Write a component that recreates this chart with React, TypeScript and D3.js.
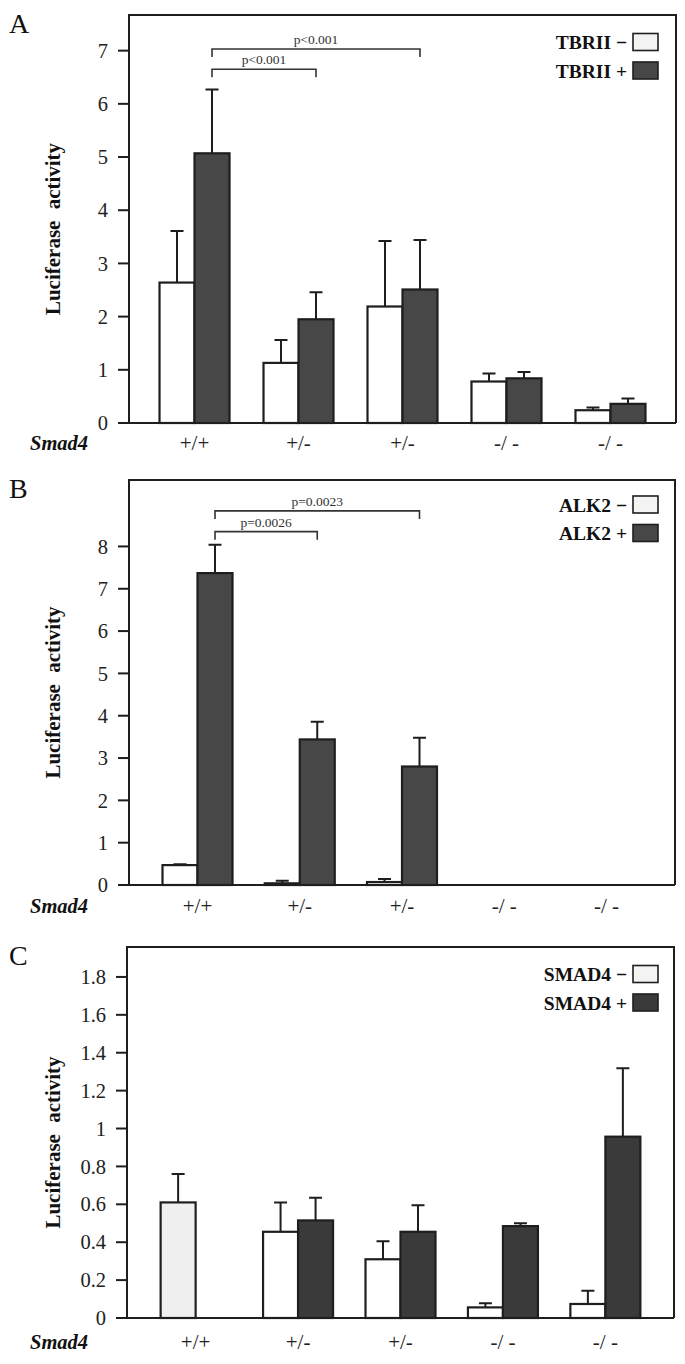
import React from "react";
import * as d3 from "d3";

// ---------- data ----------
const genotypes = ["+/+", "+/-", "+/-", "-/ -", "-/ -"];

const tbriiNeg = [2.64, 1.13, 2.19, 0.78, 0.24];
const tbriiNegSd = [0.97, 0.43, 1.23, 0.15, 0.05];
const tbriiPos = [5.07, 1.95, 2.51, 0.84, 0.36];
const tbriiPosSd = [1.2, 0.51, 0.93, 0.12, 0.1];
const tbriiTicks = [0, 1, 2, 3, 4, 5, 6, 7];

const alk2Neg: (number | null)[] = [0.47, 0.04, 0.07, null, null];
const alk2NegSd: (number | null)[] = [0.02, 0.06, 0.07, null, null];
const alk2Pos: (number | null)[] = [7.37, 3.44, 2.8, null, null];
const alk2PosSd: (number | null)[] = [0.67, 0.42, 0.68, null, null];
const alk2Ticks = [0, 1, 2, 3, 4, 5, 6, 7, 8];

const smad4Neg: (number | null)[] = [0.61, 0.455, 0.31, 0.056, 0.074];
const smad4NegSd: (number | null)[] = [0.15, 0.155, 0.095, 0.022, 0.07];
const smad4Pos: (number | null)[] = [null, 0.515, 0.455, 0.485, 0.957];
const smad4PosSd: (number | null)[] = [null, 0.12, 0.14, 0.015, 0.361];
const smad4Ticks = [0, 0.2, 0.4, 0.6, 0.8, 1, 1.2, 1.4, 1.6, 1.8];

const tbriiBrackets = [
  { from: 0, to: 2, y: 7.03, label: "p<0.001" },
  { from: 0, to: 1, y: 6.65, label: "p<0.001" },
];
const alk2Brackets = [
  { from: 0, to: 2, y: 8.84, label: "p=0.0023" },
  { from: 0, to: 1, y: 8.35, label: "p=0.0026" },
];

// ---------- styles ----------
const SERIF = "'Liberation Serif', 'Times New Roman', Times, serif";
const INK = "#1e1e1e";
const BAR_W = 35;

type Cfg = {
  letter: string;
  legendName: string;
  neg: (number | null)[];
  negSd: (number | null)[];
  pos: (number | null)[];
  posSd: (number | null)[];
  ticks: number[];
  brackets: { from: number; to: number; y: number; label: string }[];
  left: number;
  right: number;
  top: number;
  bottom: number;
  yMax: number;
  pad: number;
  labelBase: number;
  darkFill: string;
  firstNegFill: string;
  legendTop: number;
};

function Panel({ c }: { c: Cfg }) {
  const y = d3.scaleLinear().domain([0, c.yMax]).range([c.bottom, c.top]);
  const x = d3
    .scalePoint<number>()
    .domain(d3.range(genotypes.length))
    .range([c.left, c.right])
    .padding(c.pad);
  const fmt = (d: number) => String(+d.toFixed(1));

  const bars: JSX.Element[] = [];
  const errs: JSX.Element[] = [];
  genotypes.forEach((_, i) => {
    const cx = x(i) as number;
    const series = [
      { v: c.neg[i], sd: c.negSd[i], x0: cx - BAR_W, fill: i === 0 ? c.firstNegFill : "#ffffff" },
      { v: c.pos[i], sd: c.posSd[i], x0: cx, fill: c.darkFill },
    ];
    series.forEach((s, k) => {
      if (s.v == null) return;
      bars.push(
        <rect
          key={`b${i}-${k}`}
          x={s.x0}
          y={y(s.v)}
          width={BAR_W}
          height={c.bottom - y(s.v)}
          fill={s.fill}
          stroke={INK}
          strokeWidth={2.2}
        />
      );
      if (s.sd != null && s.sd > 0) {
        const mx = s.x0 + BAR_W / 2;
        const yt = y(s.v + s.sd);
        errs.push(
          <path
            key={`e${i}-${k}`}
            d={`M${mx},${y(s.v)}V${yt}M${mx - 6.5},${yt}H${mx + 6.5}`}
            stroke={INK}
            strokeWidth={2}
            fill="none"
          />
        );
      }
    });
  });

  const legendRows = [
    { label: `${c.legendName} \u2212`, fill: "#f3f3f3" },
    { label: `${c.legendName} +`, fill: c.darkFill },
  ];

  return (
    <g>
      <text x={9} y={c.top + 18} fontFamily={SERIF} fontSize={28} fill="#111">
        {c.letter}
      </text>
      {/* frame */}
      <path
        d={`M${c.left},${c.bottom}V${c.top}H${c.right}V${c.bottom}`}
        fill="none"
        stroke={INK}
        strokeWidth={2}
      />
      {bars}
      {errs}
      {/* x axis */}
      <line x1={c.left - 11} x2={c.right} y1={c.bottom} y2={c.bottom} stroke={INK} strokeWidth={2} />
      {/* y ticks */}
      {c.ticks.map((t) => (
        <g key={`t${t}`}>
          <line x1={c.left - 11} x2={c.left} y1={y(t)} y2={y(t)} stroke={INK} strokeWidth={2} />
          <text
            x={c.left - 21}
            y={y(t)}
            dy="0.35em"
            textAnchor="end"
            fontFamily={SERIF}
            fontSize={20.5}
            fill="#222"
          >
            {fmt(t)}
          </text>
        </g>
      ))}
      {/* y title */}
      <text
        transform={`translate(53,${(c.top + c.bottom) / 2 + 10}) rotate(-90)`}
        textAnchor="middle"
        dy="0.35em"
        fontFamily={SERIF}
        fontWeight="bold"
        fontSize={21}
        wordSpacing={6}
        fill="#111"
      >
        Luciferase activity
      </text>
      {/* x labels */}
      <text
        x={30}
        y={c.labelBase}
        fontFamily={SERIF}
        fontWeight="bold"
        fontStyle="italic"
        fontSize={20.5}
        fill="#111"
      >
        Smad4
      </text>
      {genotypes.map((g, i) => (
        <text
          key={`g${i}`}
          x={x(i)}
          y={c.labelBase}
          textAnchor="middle"
          fontFamily={SERIF}
          fontSize={21}
          fill="#222"
        >
          {g}
        </text>
      ))}
      {/* significance brackets */}
      {c.brackets.map((b, i) => {
        const x1 = (x(b.from) as number) + BAR_W / 2;
        const x2 = (x(b.to) as number) + BAR_W / 2;
        const yy = y(b.y);
        return (
          <g key={`br${i}`}>
            <path
              d={`M${x1},${yy + 8}V${yy}H${x2}V${yy + 8}`}
              fill="none"
              stroke="#333"
              strokeWidth={1.6}
            />
            <text
              x={(x1 + x2) / 2}
              y={yy - 5}
              textAnchor="middle"
              fontFamily={SERIF}
              fontSize={13.5}
              fill="#333"
            >
              {b.label}
            </text>
          </g>
        );
      })}
      {/* legend */}
      {legendRows.map((r, i) => {
        const ty = c.legendTop + i * 28.5;
        return (
          <g key={`l${i}`}>
            <text
              x={627}
              y={ty + 9}
              dy="0.35em"
              textAnchor="end"
              fontFamily={SERIF}
              fontWeight="bold"
              fontSize={19.5}
              fill="#111"
            >
              {r.label}
            </text>
            <rect x={633} y={ty} width={25} height={17} fill={r.fill} stroke={INK} strokeWidth={1.6} />
          </g>
        );
      })}
    </g>
  );
}

const panels: Cfg[] = [
  {
    letter: "A",
    legendName: "TBRII",
    neg: tbriiNeg,
    negSd: tbriiNegSd,
    pos: tbriiPos,
    posSd: tbriiPosSd,
    ticks: tbriiTicks,
    brackets: tbriiBrackets,
    left: 129,
    right: 676,
    top: 15,
    bottom: 423,
    yMax: 7.67,
    pad: 0.63,
    labelBase: 450,
    darkFill: "#474747",
    firstNegFill: "#ffffff",
    legendTop: 33.5,
  },
  {
    letter: "B",
    legendName: "ALK2",
    neg: alk2Neg,
    negSd: alk2NegSd,
    pos: alk2Pos,
    posSd: alk2PosSd,
    ticks: alk2Ticks,
    brackets: alk2Brackets,
    left: 129,
    right: 675,
    top: 480,
    bottom: 885,
    yMax: 9.57,
    pad: 0.67,
    labelBase: 913,
    darkFill: "#474747",
    firstNegFill: "#ffffff",
    legendTop: 496,
  },
  {
    letter: "C",
    legendName: "SMAD4",
    neg: smad4Neg,
    negSd: smad4NegSd,
    pos: smad4Pos,
    posSd: smad4PosSd,
    ticks: smad4Ticks,
    brackets: [],
    left: 127,
    right: 674,
    top: 947,
    bottom: 1318,
    yMax: 1.958,
    pad: 0.67,
    labelBase: 1349,
    darkFill: "#3a3a3a",
    firstNegFill: "#efefef",
    legendTop: 965.5,
  },
];

export default function App() {
  return (
    <svg
      width={685}
      height={1364}
      viewBox="0 0 685 1364"
      style={{ position: "absolute", left: 0, top: 0, background: "#ffffff" }}
    >
      <rect x={0} y={0} width={685} height={1364} fill="#ffffff" />
      {panels.map((c) => (
        <Panel key={c.letter} c={c} />
      ))}
    </svg>
  );
}
